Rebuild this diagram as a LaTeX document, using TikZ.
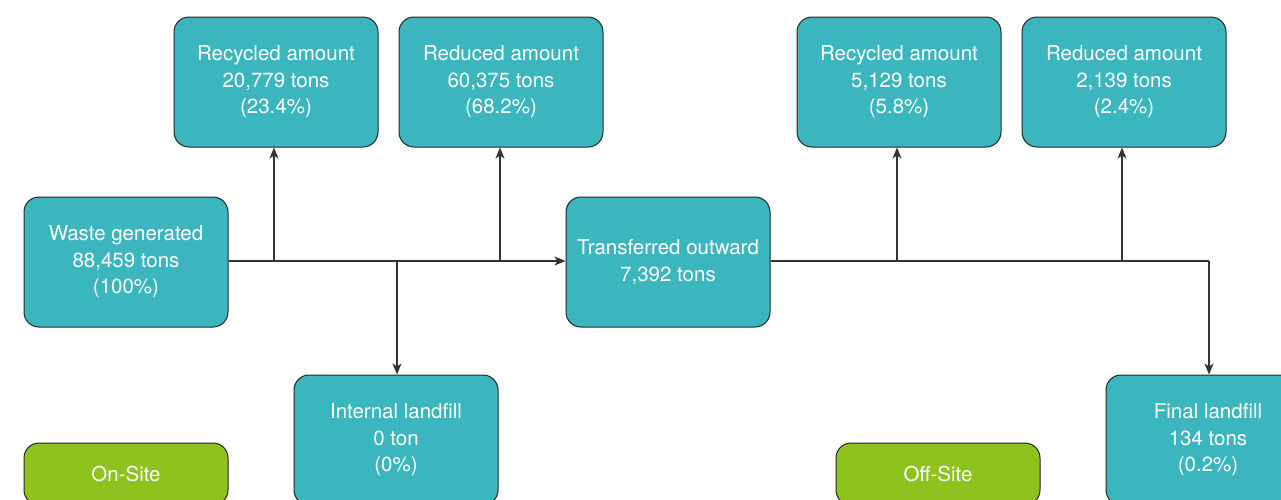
\documentclass[tikz,border=0pt]{standalone}
\usepackage{fontspec}
\setmainfont{TeX Gyre Heros}
\usetikzlibrary{arrows.meta}
\definecolor{teal1}{HTML}{3BB5BE}
\definecolor{green1}{HTML}{8DC21F}
\tikzset{
  box/.style={draw=black!85, line width=1pt, fill=teal1, rounded corners=15pt,
    minimum width=204pt, minimum height=130pt, text=white, align=center,
    font=\fontsize{20.5}{26.5}\selectfont, inner sep=0pt},
  sitebox/.style={box, fill=green1, minimum height=62pt},
  conn/.style={draw=black!80, line width=1.2pt},
  arr/.style={conn, -{Stealth[length=11pt,width=9pt,inset=3pt]}}
}
\begin{document}
\begin{tikzpicture}[x=1pt,y=-1pt]
\clip (0,0) rectangle (1281,499);
\fill[white] (0,0) rectangle (1281,499);
\node[box] (waste) at (126,262) {Waste generated\\88,459 tons\\(100\%)};
\node[box] (rec1) at (276,82) {Recycled amount\\20,779 tons\\(23.4\%)};
\node[box] (red1) at (501,82) {Reduced amount\\60,375 tons\\(68.2\%)};
\node[box] (trans) at (668,262) {Transferred outward\\7,392 tons};
\node[box] (rec2) at (899,82) {Recycled amount\\5,129 tons\\(5.8\%)};
\node[box] (red2) at (1124,82) {Reduced amount\\2,139 tons\\(2.4\%)};
\node[box] (intl) at (396,440) {Internal landfill\\0 ton\\(0\%)};
\node[box] (finl) at (1208,440) {Final landfill\\134 tons\\(0.2\%)};
\node[sitebox] (onsite) at (126,474) {On-Site};
\node[sitebox] (offsite) at (938,474) {Off-Site};
\coordinate (j1) at (274,261);
\coordinate (j2) at (397,261);
\coordinate (j3) at (500,261);
\coordinate (k1) at (897,261);
\coordinate (k2) at (1122,261);
\coordinate (k3) at (1209,261);
\draw[arr] (waste.east |- j1) -- (trans.west |- j1);
\draw[arr] (j1) -- (j1 |- rec1.south);
\draw[arr] (j3) -- (j3 |- red1.south);
\draw[arr] (j2) -- (j2 |- intl.north);
\draw[conn] (trans.east |- k1) -- (k3);
\draw[arr] (k1) -- (k1 |- rec2.south);
\draw[arr] (k2) -- (k2 |- red2.south);
\draw[arr] (k3) -- (k3 |- finl.north);
\end{tikzpicture}
\end{document}
